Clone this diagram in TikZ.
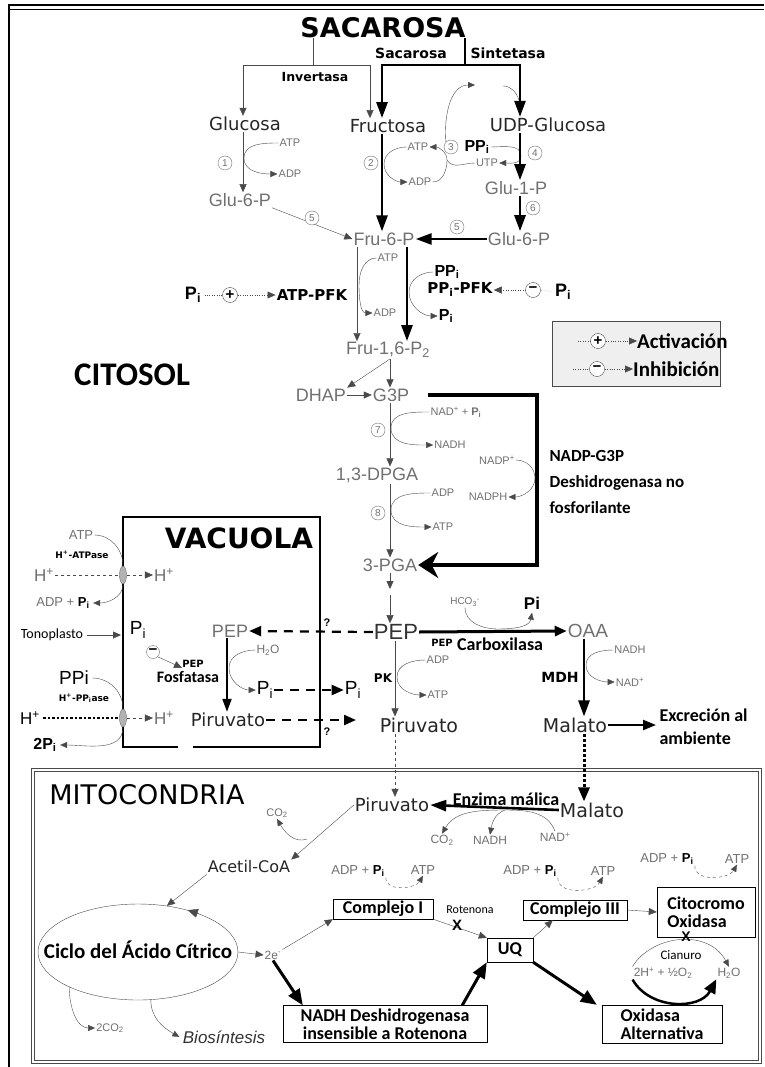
\documentclass[tikz,border=0pt]{standalone}
\usepackage{fontspec}
\setmainfont{Liberation Sans}
\newfontfamily\vfont{DejaVu Sans}
\newfontfamily\cfont{Carlito}
\usetikzlibrary{arrows.meta,shapes.geometric}
\definecolor{mGray}{HTML}{707070}
\definecolor{mLine}{HTML}{4A4A4A}
\definecolor{mLegend}{HTML}{EFEFEF}
\newcommand{\fsz}[1]{\fontsize{#1}{#1}\selectfont}
\newcommand{\Pisub}{P\textsubscript{i}}
\newcommand{\stepn}[3]{\node[stepc] (#1) at (#2) {#3};}
\tikzset{
  glab/.style={font=\fsz{18}, text=mGray, inner sep=1pt},
  blab/.style={font=\vfont\fsz{18}, text=black!85, inner sep=1pt},
  slab/.style={font=\fsz{11}, text=mGray, inner sep=1pt},
  enz/.style={font=\vfont\bfseries\fsz{14}, inner sep=1pt},
  stepc/.style={circle, draw=mGray, fill=white, text=mGray, font=\fsz{10}, inner sep=0pt, minimum size=14pt},
  regc/.style={circle, draw=mLine, fill=white, inner sep=0pt, minimum size=15pt, font=\bfseries\fsz{15}},
  arrw/.style={-{Triangle[length=8pt,width=7pt]}},
  thn/.style={draw=mLine, arrw},
  thk/.style={draw=black, line width=2.6pt, -{Triangle[length=16pt,width=11pt]}},
  cofac/.style={draw=mLine, -{Triangle[length=7pt,width=6pt]}},
  dashk/.style={draw=black, line width=2.2pt, dash pattern=on 9pt off 7pt, -{Triangle[length=12pt,width=10pt]}},
  cbox/.style={draw, fill=white, font=\cfont\bfseries\fsz{18}, inner sep=2pt},
}
\begin{document}
\begin{tikzpicture}[x=1pt,y=-1pt]
\useasboundingbox (0,0) rectangle (764,1067);
\draw[line width=2.4pt] (9,1067) -- (9,5) -- (764,5);
\draw[line width=0.6pt] (9,9) -- (764,9);

\coordinate (xa) at (243,0);
\coordinate (xb) at (382,0);
\coordinate (xc) at (520,0);
\coordinate (xd) at (357,0);
\coordinate (xe) at (407,0);
\coordinate (xf) at (390,0);
\coordinate (xg) at (584,0);
\coordinate (xh) at (395,0);
\coordinate (xv) at (227,0);

\node[font=\vfont\bfseries\fsz{27}, inner sep=0pt] (sac) at (383,28) {SACAROSA};
\node[enz] (ssa) at (411,53) {Sacarosa};
\node[enz] (ssb) at (508,53) {Sintetasa};
\node[enz, font=\vfont\bfseries\fsz{12.5}] (inv) at (315,77) {Invertasa};
\node[blab] (glc) at (245,124) {Glucosa};
\node[blab] (fru) at (388,126) {Fructosa};
\node[blab] (udp) at (548,125) {UDP-Glucosa};
\coordinate (invj) at (313,65);
\coordinate (ssj) at (465,65);
\draw[mLine] (sac.south -| invj) -- (invj);
\draw[thn] (invj) -| (glc.north -| xa);
\draw[thn] (invj) -| ([xshift=-18pt]fru.north);
\draw[line width=2.6pt] (sac.south -| ssj) -- (ssj);
\draw[thk] (ssj) -| (fru.north -| xb);
\draw[thk] (ssj) -| (udp.north -| xc);

\node[glab] (g6a) at (240,200) {Glu-6-P};
\draw[thn] (glc.south -| xa) -- (g6a.north -| xa);
\stepn{s1}{225,163}{1}
\node[slab] (atp1) at (290,143) {ATP};
\node[slab] (adp1) at (290,174) {ADP};
\coordinate (k1) at (244,158);
\draw[cofac] (atp1.west) to[out=180,in=90] (k1) to[out=-90,in=180] (adp1.west);

\node[glab] (f6p) at (384,239) {Fru-6-P};
\draw[thk] (fru.south -| xb) -- (f6p.north -| xb);
\stepn{s2}{371,163}{2}
\node[slab] (atp2) at (418,147) {ATP};
\node[slab] (adp2) at (420,182) {ADP};
\coordinate (k2) at (384,164);
\draw[cofac] (atp2.west) to[out=180,in=90] (k2) to[out=-90,in=180] (adp2.west);
\coordinate (k3) at (447,160);
\draw[cofac] (adp2.east) to[out=0,in=-90] (k3) to[out=90,in=0] (atp2.east);
\node[slab] (utp) at (487,163) {UTP};
\draw[mLine] (utp.west) to[out=180,in=-60] (k3);
\coordinate (udpa) at (475,85);
\coordinate (udpb) at (503,86);
\coordinate (udpc) at (519,100);
\stepn{s3}{451,147}{3}
\draw[cofac] (s3.north west) to[out=95,in=180] (udpa);
\draw[mLine] (udpb) to[out=0,in=110] (udpc);
\node[font=\bfseries\fsz{16}, inner sep=1pt] (ppi4) at (477,147) {PP\textsubscript{i}};
\stepn{s4}{535,153}{4}
\coordinate (k4) at (521,156);
\draw[cofac] (ppi4.east) to[out=0,in=90] (k4) to[out=-90,in=0] (utp.east);
\node[glab] (g1p) at (516,188) {Glu-1-P};
\draw[thk] (udp.south -| xc) -- (g1p.north -| xc);
\node[glab] (g6b) at (519,239) {Glu-6-P};
\draw[thk] (g1p.south -| xc) -- (g6b.north -| xc);
\stepn{s6}{533,208}{6}
\draw[thk] (g6b.west) -- (f6p.east);
\stepn{s5b}{457,227}{5}
\draw[thn] (g6a.south east) -- (f6p.west);
\stepn{s5a}{312,218}{5}

\node[glab] (fbp) at (388,350) {Fru-1,6-P\textsubscript{2}};
\draw[thn] (f6p.south -| xd) -- (fbp.north -| xd);
\draw[thk] (f6p.south -| xe) -- (fbp.north -| xe);
\node[slab] (atp3) at (388,258) {ATP};
\node[slab] (adp3) at (385,313) {ADP};
\coordinate (k5) at (359,285);
\draw[cofac] (atp3.west) to[out=180,in=90] (k5) to[out=-90,in=180] (adp3.west);
\node[enz, font=\vfont\bfseries\fsz{15}] (apfk) at (312,295) {ATP-PFK};
\node[font=\bfseries\fsz{18}] (pia) at (193,295) {\Pisub};
\node[regc] (plus1) at (230,295) {+};
\draw[dotted, mLine] (pia) -- (plus1);
\draw[dotted, mLine, arrw] (plus1) -- (apfk);
\node[font=\bfseries\fsz{16}, inner sep=1pt] (ppi5) at (447,272) {PP\textsubscript{i}};
\node[font=\bfseries\fsz{16}, inner sep=1pt] (pi5) at (446,316) {\Pisub};
\coordinate (k6) at (409,292);
\draw[cofac] (ppi5.west) to[out=180,in=90] (k6) to[out=-90,in=180] (pi5.west);
\node[enz, font=\vfont\bfseries\fsz{15}] (ppfk) at (460,290) {PP\textsubscript{i}-PFK};
\node[regc] (minus1) at (533,290) {−};
\node[font=\bfseries\fsz{18}] (pib) at (563,292) {\Pisub};
\draw[dotted, mLine] (pib) -- (minus1);
\draw[dotted, mLine, arrw] (minus1) -- (ppfk);

\node[draw=mLine, fill=mLegend, minimum width=168pt, minimum height=65pt, inner sep=0pt] (leg) at (636,354) {};
\node[regc] (lplus) at (598,341) {+};
\node[regc] (lminus) at (597,369) {−};
\node[font=\cfont\bfseries\fsz{21}, anchor=west, inner sep=0pt] (lact) at (637,341) {Activación};
\node[font=\cfont\bfseries\fsz{21}, anchor=west, inner sep=0pt] (linh) at (633,369) {Inhibición};
\coordinate (la) at (578,341);
\coordinate (lb) at (573,369);
\draw[dotted, mLine] (la) -- (lplus);
\draw[dotted, mLine, arrw] (lplus) -- (lact.west);
\draw[dotted, mLine] (lb) -- (lminus);
\draw[dotted, mLine, arrw] (lminus) -- (linh.west);

\node[font=\cfont\bfseries\fsz{33}] (cit) at (132,375) {CITOSOL};

\node[glab] (dhap) at (321,395) {DHAP};
\node[glab] (g3p) at (391,395) {G3P};
\draw[thn] (fbp.south -| xf) -- (g3p.north -| xf);
\draw[thn] (fbp.south -| xf) -- (dhap.north east);
\draw[thn] (dhap) -- (g3p);
\node[glab] (dpga) at (377,475) {1,3-DPGA};
\draw[thn] (g3p.south -| xf) -- (dpga.north -| xf);
\stepn{s7}{378,430}{7}
\node[slab] (nad7) at (456,412) {NAD\textsuperscript{+} + \textbf{\Pisub}};
\node[slab] (nadh7) at (450,445) {NADH};
\coordinate (k7) at (391,428);
\draw[cofac] (nad7.west) to[out=180,in=90] (k7) to[out=-90,in=180] (nadh7.west);
\node[glab] (pga) at (390,565) {3-PGA};
\draw[thn] (dpga.south -| xf) -- (pga.north -| xf);
\stepn{s8}{378,513}{8}
\node[slab] (adp8) at (443,493) {ADP};
\node[slab] (atp8) at (443,527) {ATP};
\coordinate (k8) at (391,510);
\draw[cofac] (adp8.west) to[out=180,in=90] (k8) to[out=-90,in=180] (atp8.west);
\coordinate (np2) at (537,565);
\draw[line width=3.5pt, -{Stealth[length=20pt,width=26pt]}] ([xshift=18pt]g3p.east) -| (np2) -- (pga.east);
\node[slab] (nadp) at (497,460) {NADP\textsuperscript{+}};
\node[slab] (nadph) at (488,497) {NADPH};
\coordinate (k9) at (535,478);
\draw[cofac] (nadp.east) to[out=0,in=90] (k9) to[out=-90,in=0] (nadph.east);
\node[font=\cfont\bfseries\fontsize{17}{26}\selectfont, align=left, anchor=west] (npl) at (546,482) {NADP-G3P\\Deshidrogenasa no\\fosforilante};

\node[font=\fsz{22}, text=black!80, inner sep=1pt] (pep) at (396,632) {PEP};
\coordinate (pa) at (390,589);
\coordinate (pb) at (390,595);
\draw[thn] (pga.south -| xf) -- (pa);
\draw[thn] (pb) -- (pep.north -| xf);
\node[glab, font=\fsz{19}] (oaa) at (588,631) {OAA};
\draw[line width=3pt, -{Triangle[length=12pt,width=10pt]}] (pep.east) -- (oaa.west);
\node[slab, font=\fsz{10}] (hco) at (465,602) {HCO\textsubscript{3}\textsuperscript{-}};
\node[font=\bfseries\fsz{17}] (pi9) at (532,603) {Pi};
\coordinate (k10) at (498,629);
\draw[cofac] (hco.south) to[out=-90,in=180] (k10) to[out=0,in=-100] (pi9.south);
\node[font=\vfont\bfseries\fsz{10}, inner sep=0pt] (pepl) at (442,643) {PEP};
\node[font=\cfont\bfseries\fsz{18}, anchor=west, inner sep=0pt] (carb) at (457,644) {Carboxilasa};
\node[blab, font=\vfont\fsz{19}] (mal) at (575,725) {Malato};
\draw[thk] (oaa.south -| xg) -- (mal.north -| xg);
\node[slab] (nadh10) at (630,650) {NADH};
\node[slab] (nad10) at (630,682) {NAD\textsuperscript{+}};
\coordinate (k11) at (586,665);
\draw[cofac] (nadh10.west) to[out=180,in=90] (k11) to[out=-90,in=180] (nad10.west);
\node[enz] (mdh) at (560,677) {MDH};
\node[font=\cfont\bfseries\fontsize{18}{23}\selectfont, align=left, anchor=west] (exc) at (656,727) {Excreción al\\ambiente};
\draw[line width=2.2pt, -{Triangle[length=13pt,width=10pt]}] (mal.east) -- (exc.west |- mal.east);
\node[blab, font=\vfont\fsz{19}] (pyr) at (419,725) {Piruvato};
\draw[thn] (pep.south -| xh) -- (pyr.north -| xh);
\node[enz, font=\vfont\bfseries\fsz{12}] (pk) at (383,678) {PK};
\node[slab] (adp11) at (438,660) {ADP};
\node[slab] (atp11) at (438,695) {ATP};
\coordinate (k12) at (397,677);
\draw[cofac] (adp11.west) to[out=180,in=90] (k12) to[out=-90,in=180] (atp11.west);

\draw[line width=2.4pt] (178,747) -| (123,517) -| (320,747) -- (193,747);
\node[font=\vfont\bfseries\fsz{28}] (vac) at (239,538) {VACUOLA};
\node[glab, font=\fsz{18}] (pepv) at (230,631) {PEP};
\draw[dashk] (pep.west) -- (pepv.east);
\node[font=\bfseries\fsz{11}] (q1) at (327,623) {?};
\node[blab, font=\vfont\fsz{18}] (piv) at (228,720) {Piruvato};
\draw[line width=2pt, -{Triangle[length=13pt,width=9pt]}] (pepv.south -| xv) -- (piv.north -| xv);
\node[slab, font=\fsz{12}] (h2o) at (268,650) {H\textsubscript{2}O};
\node[font=\fsz{19}, inner sep=1pt] (piva) at (265,690) {\Pisub};
\node[font=\fsz{19}, inner sep=1pt] (pivb) at (353,690) {\Pisub};
\coordinate (k13) at (229,668);
\draw[cofac] (h2o.west) to[out=180,in=90] (k13) to[out=-90,in=180] (piva.west);
\draw[dashk] (piva.east) -- (pivb.west);
\coordinate (pyo) at (356,720);
\draw[dashk] (piv.east) -- (pyo);
\node[font=\bfseries\fsz{11}] (q2) at (327,732) {?};
\node[font=\fsz{19}] (pir) at (138,630) {\Pisub};
\node[regc, draw=mGray, minimum size=13pt] (minus2) at (153,652) {−};
\node[font=\vfont\bfseries\fsz{10}, inner sep=0pt] (pepf) at (193,664) {PEP};
\node[font=\cfont\bfseries\fsz{16}, inner sep=0pt] (fosf) at (188,677) {Fosfatasa};
\draw[arrw, mLine] (minus2.south east) -- (pepf.south west);

\node[slab, font=\fsz{13}] (atpm) at (81,535) {ATP};
\node[font=\vfont\bfseries\fsz{9}] (hatp) at (82,555) {H\textsuperscript{+}-ATPase};
\node[glab, font=\fsz{17}] (hl1) at (44,575) {H\textsuperscript{+}};
\node[ellipse, draw=mGray, fill=gray!60, minimum width=7pt, minimum height=18pt, inner sep=0pt] (ch1) at (123,575) {};
\node[glab, font=\fsz{17}] (hr1) at (164,575) {H\textsuperscript{+}};
\node[font=\fsz{13}, text=mGray] (adpm) at (63,603) {ADP + \textcolor{black}{\textbf{\Pisub}}};
\draw[dashed, mLine] (hl1) -- (ch1);
\draw[dashed, mLine, arrw] (ch1) -- (hr1);
\draw[mLine] (atpm.east) to[out=0,in=90] (ch1.north);
\draw[cofac] (ch1.south) to[out=-90,in=0] (adpm.east);
\node[font=\cfont\fsz{14}] (tono) at (52,635) {Tonoplasto};
\coordinate (tonm) at (121,635);
\draw[thn] (tono) -- (tonm);
\node[font=\fsz{19}] (ppim) at (74,678) {PPi};
\node[font=\vfont\bfseries\fsz{9}] (hpp) at (84,698) {H\textsuperscript{+}-PP\textsubscript{i}ase};
\node[font=\fsz{17}] (hl2) at (30,718) {H\textsuperscript{+}};
\node[ellipse, draw=mGray, fill=gray!60, minimum width=7pt, minimum height=18pt, inner sep=0pt] (ch2) at (123,718) {};
\node[glab, font=\fsz{17}] (hr2) at (164,718) {H\textsuperscript{+}};
\node[font=\bfseries\fsz{16}] (pi2m) at (45,745) {2\Pisub};
\draw[line width=2.5pt, dotted] (hl2) -- (ch2);
\draw[dashed, mLine, arrw] (ch2) -- (hr2);
\draw[mLine] (ppim.east) to[out=0,in=90] (ch2.north);
\draw[cofac] (ch2.south) to[out=-90,in=0] (pi2m.east);

\draw[draw=mLine, double, double distance=2pt, line width=0.8pt] (33,770) rectangle (760,1062);
\node[font=\vfont\fsz{27}] (mito) at (147,795) {MITOCONDRIA};
\node[blab, font=\vfont\fsz{18}] (pyrm) at (392,805) {Piruvato};
\node[blab, font=\vfont\fsz{19}] (malm) at (592,810) {Malato};
\draw[thn, dashed] (pyr.south -| xh) -- (pyrm.north -| xh);
\draw[line width=3pt, dotted, -{Triangle[length=14pt,width=11pt]}] (mal.south -| xg) -- (malm.north -| xg);
\draw[thk] (malm.west) -- (pyrm.east);
\node[font=\cfont\bfseries\fsz{18}, inner sep=0pt] (enzm) at (506,799) {Enzima málica};
\node[slab, font=\fsz{12}] (co2m) at (442,840) {CO\textsubscript{2}};
\node[slab, font=\fsz{12}] (nadhm) at (490,840) {NADH};
\node[slab, font=\fsz{12}] (nadm) at (555,837) {NAD\textsuperscript{+}};
\coordinate (k14) at (505,810);
\draw[mLine] (nadm.north) to[out=110,in=0] (k14);
\draw[cofac] (k14) to[out=180,in=60] (co2m.north);
\draw[cofac] (k14) to[out=200,in=80] (nadhm.north);
\node[slab, font=\fsz{11}] (co2a) at (277,813) {CO\textsubscript{2}};
\node[blab, font=\vfont\fsz{16}] (acoa) at (249,867) {Acetil-CoA};
\draw[thn] (pyrm.west) -- (acoa.north east);
\coordinate (k15) at (307,839);
\draw[cofac] (k15) to[out=200,in=-60] (co2a.south);

\node[ellipse, draw=mLine, minimum width=200pt, minimum height=96pt, inner sep=0pt] (tca) at (138,952) {};
\node[font=\cfont\bfseries\fsz{21}, inner sep=0pt] (tcal) at (138,950) {Ciclo del Ácido Cítrico};
\draw[thn] (acoa.south west) -- (tca.58);
\draw[draw=mLine, -{Triangle[length=10pt,width=9pt]}] (tca.32) -- (tca.40);
\node[slab, font=\fsz{12}] (e2) at (273,955) {2e\textsuperscript{-}};
\draw[thn] (tca.east) -- (e2.west);
\node[slab, font=\fsz{11}] (co2b) at (110,1028) {2CO\textsubscript{2}};
\node[font=\itshape\fsz{17}, text=black!80] (bios) at (224,1037) {Biosíntesis};
\draw[cofac] (tca.207) to[out=-90,in=180] (co2b.west);
\draw[cofac] (tca.285) to[out=-90,in=150] (bios.west);

\node[cbox, minimum width=100pt, minimum height=20pt] (c1) at (383,909) {Complejo I};
\node[cbox, minimum width=104pt, minimum height=20pt] (c3) at (575,910) {Complejo III};
\node[cbox, align=left, minimum width=98pt, minimum height=50pt] (cox) at (706,912) {Citocromo\\Oxidasa};
\node[cbox, minimum width=46pt, minimum height=24pt] (uq) at (510,950) {UQ};
\node[cbox, align=center, minimum width=204pt, minimum height=37pt] (ndh) at (385,1024) {NADH Deshidrogenasa\\insensible a Rotenona};
\node[cbox, align=left, minimum width=120pt, minimum height=38pt] (aox) at (662,1024) {Oxidasa\\Alternativa};
\draw[thn] (e2.north east) -- (c1.south west);
\draw[line width=3pt, -{Triangle[length=16pt,width=13pt]}] (e2.south) -- ([xshift=20pt]ndh.north west);
\draw[line width=3pt, -{Triangle[length=16pt,width=13pt]}] ([xshift=-25pt]ndh.north east) -- (uq.south west);
\draw[line width=3pt, -{Triangle[length=16pt,width=13pt]}] (uq.south east) -- ([xshift=-5pt]aox.north west);
\draw[thn] (c1.south east) -- (uq.north west);
\node[font=\bfseries\fsz{15}] (x1) at (457,925) {X};
\node[font=\cfont\fsz{12}] (rot) at (470,910) {Rotenona};
\draw[thn] (uq.north east) -- ([xshift=30pt]c3.south west);
\draw[thn] (c3.east) -- (cox.west);
\node[slab, font=\fsz{13}] (adpc1) at (358,871) {ADP + \textcolor{black}{\textbf{\Pisub}}};
\node[slab, font=\fsz{13}] (atpc1) at (423,870) {ATP};
\node[slab, font=\fsz{13}] (adpc3) at (530,871) {ADP + \textcolor{black}{\textbf{\Pisub}}};
\node[slab, font=\fsz{13}] (atpc3) at (603,871) {ATP};
\node[slab, font=\fsz{13}] (adpc4) at (667,859) {ADP + \textcolor{black}{\textbf{\Pisub}}};
\node[slab, font=\fsz{13}] (atpc4) at (737,859) {ATP};
\draw[cofac, dashed] (adpc1.south east) to[out=-90,in=-120] (atpc1.south);
\draw[cofac, dashed] (adpc3.south east) to[out=-90,in=-120] (atpc3.south);
\draw[cofac, dashed] (adpc4.south east) to[out=-90,in=-120] (atpc4.south);
\node[slab, font=\fsz{12}] (o2) at (663,973) {2H\textsuperscript{+} + ½O\textsubscript{2}};
\node[slab, font=\fsz{12}] (h2o2) at (729,973) {H\textsubscript{2}O};
\node[font=\cfont\fsz{13}] (cian) at (681,955) {Cianuro};
\draw[cofac] (o2.north west) .. controls (652,935) and (708,928) .. (h2o2.north);
\node[font=\bfseries\fsz{14}] (x2) at (686,937) {X};
\draw[line width=2.5pt, -{Triangle[length=14pt,width=12pt]}] (o2.south west) .. controls (650,1010) and (700,1010) .. (h2o2.south west);
\end{tikzpicture}
\end{document}
